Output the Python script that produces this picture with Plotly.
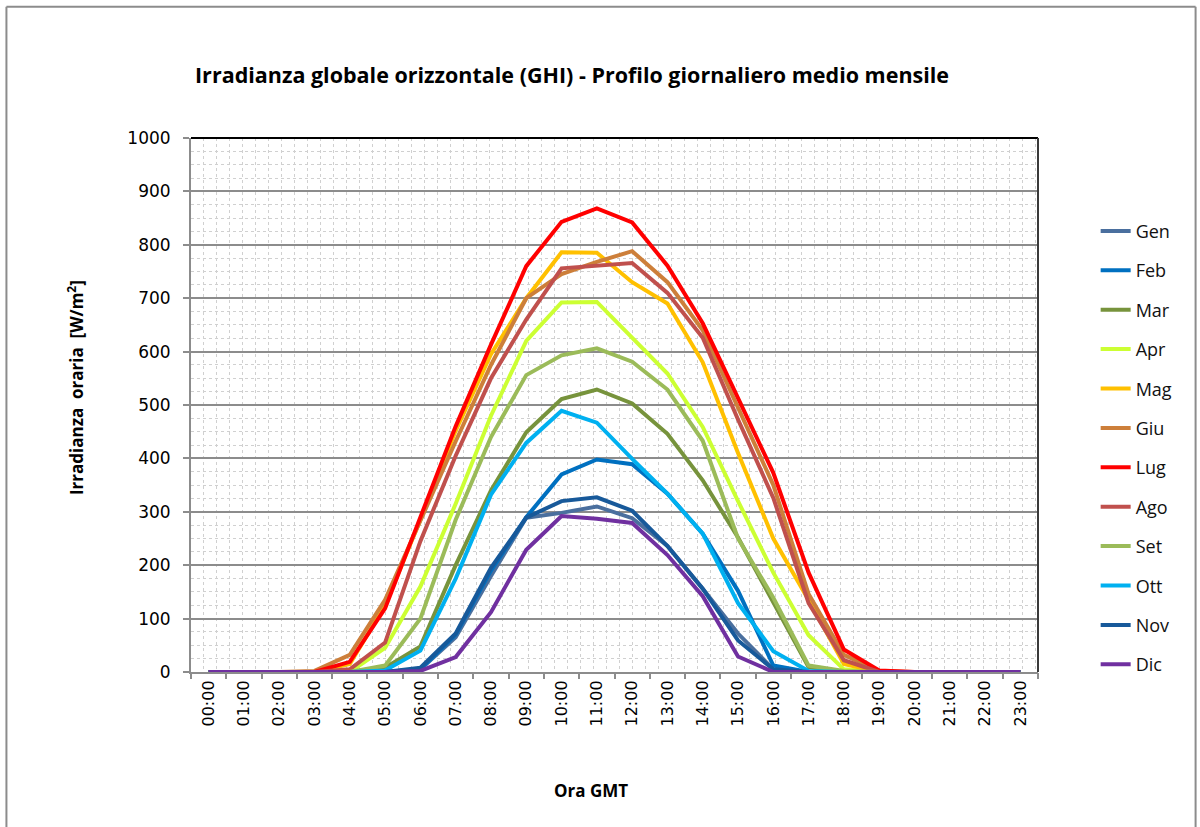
import plotly.graph_objects as go

hours = [f"{h:02d}:00" for h in range(24)]
months = ["Gen", "Feb", "Mar", "Apr", "Mag", "Giu", "Lug", "Ago", "Set", "Ott", "Nov", "Dic"]
colors = ["#4A6F9E", "#0070C0", "#77933C", "#CCFF33", "#FFC000", "#CD7F3A",
          "#FF0000", "#C0504D", "#9BBB59", "#00B0F0", "#17599A", "#7030A0"]

gen = [0, 0, 0, 0, 0, 0, 5, 65, 180, 289, 298, 310, 288, 236, 156, 72, 5, 0, 0, 0, 0, 0, 0, 0]
feb = [0, 0, 0, 0, 0, 0, 5, 70, 190, 290, 370, 398, 389, 334, 259, 152, 12, 0, 0, 0, 0, 0, 0, 0]
mar = [0, 0, 0, 0, 0, 8, 48, 200, 340, 449, 511, 529, 503, 446, 359, 252, 130, 9, 0, 0, 0, 0, 0, 0]
apr = [0, 0, 0, 0, 0, 45, 160, 315, 480, 620, 692, 693, 625, 559, 459, 320, 186, 69, 5, 0, 0, 0, 0, 0]
mag = [0, 0, 0, 0, 15, 125, 285, 452, 595, 700, 786, 785, 730, 690, 580, 410, 250, 135, 15, 0, 0, 0, 0, 0]
giu = [0, 0, 0, 2, 32, 135, 285, 432, 575, 700, 745, 768, 788, 730, 640, 493, 350, 146, 32, 2, 0, 0, 0, 0]
lug = [0, 0, 0, 0, 19, 119, 290, 460, 613, 760, 843, 868, 842, 761, 653, 513, 373, 186, 42, 3, 0, 0, 0, 0]
ago = [0, 0, 0, 0, 5, 55, 245, 405, 550, 660, 756, 761, 766, 710, 626, 473, 326, 129, 22, 0, 0, 0, 0, 0]
set_ = [0, 0, 0, 0, 0, 12, 100, 285, 440, 556, 593, 606, 581, 529, 433, 250, 139, 12, 2, 0, 0, 0, 0, 0]
ott = [0, 0, 0, 0, 0, 3, 40, 175, 332, 429, 489, 467, 399, 334, 259, 129, 39, 2, 0, 0, 0, 0, 0, 0]
nov = [0, 0, 0, 0, 0, 0, 8, 72, 195, 289, 320, 327, 302, 236, 156, 59, 5, 0, 0, 0, 0, 0, 0, 0]
dic = [0, 0, 0, 0, 0, 0, 2, 28, 112, 229, 292, 287, 279, 219, 142, 29, 0, 0, 0, 0, 0, 0, 0, 0]

series = [gen, feb, mar, apr, mag, giu, lug, ago, set_, ott, nov, dic]

y_ticks = list(range(0, 1001, 100))

# plot area geometry (pixels)
W, H = 1200, 827
L, R, T, B = 190.7, 1038.3, 138.3, 672.3
pw, ph = R - L, B - T

def px(x):
    return (x - L) / pw

def py(y):
    return (B - y) / ph

fig = go.Figure()
xi = list(range(24))
for name, col, vals in zip(months, colors, series):
    fig.add_trace(go.Scatter(
        x=xi, y=vals, name=name, mode="lines",
        line=dict(color=col, width=4),
        legendgroup=name,
    ))

# invisible trace on the tick-mark axis
fig.add_trace(go.Scatter(x=[-0.5], y=[0], xaxis="x2", mode="markers",
                         marker=dict(opacity=0), showlegend=False, hoverinfo="skip"))

fig.update_layout(
    width=W, height=H,
    paper_bgcolor="white", plot_bgcolor="white",
    margin=dict(l=L, r=W - R, t=T, b=H - B),
    font=dict(family="DejaVu Sans, sans-serif", color="#000000"),
    showlegend=True,
    legend=dict(
        x=px(1096), y=py(213), xref="paper", yref="paper",
        xanchor="left", yanchor="top",
        font=dict(family="Open Sans, sans-serif", size=18, color="#111111"),
        traceorder="grouped", tracegroupgap=13,
        bgcolor="rgba(0,0,0,0)",
    ),
    xaxis=dict(
        range=[-0.5, 23.5], tickmode="array", tickvals=xi, ticktext=hours,
        tickangle=-90, ticks="", showgrid=False, zeroline=False,
        showline=True, linecolor="#8C8C8C", linewidth=2,
        tickfont=dict(family="DejaVu Sans, sans-serif", size=16, color="#000000"),
        minor=dict(tickmode="linear", tick0=-0.5, dtick=24 / 65.2, showgrid=True,
                   gridcolor="#D0D0D0", griddash="dot", gridwidth=1, ticks=""),
    ),
    xaxis2=dict(
        overlaying="x", anchor="y", side="bottom", range=[-0.5, 23.5],
        tickmode="array", tickvals=[i - 0.5 for i in range(25)],
        ticks="outside", ticklen=6, tickcolor="#8C8C8C", tickwidth=2,
        showticklabels=False, showgrid=False, zeroline=False, showline=False,
    ),
    yaxis=dict(
        range=[0, 1000], tickmode="array", tickvals=y_ticks,
        ticks="outside", ticklen=6, tickcolor="#8C8C8C", tickwidth=2,
        ticklabelstandoff=9,
        showgrid=True, gridcolor="#8C8C8C", gridwidth=1.5, zeroline=False,
        showline=True, linecolor="#8C8C8C", linewidth=2,
        tickfont=dict(family="DejaVu Sans, sans-serif", size=17, color="#000000"),
        minor=dict(tickmode="linear", tick0=0, dtick=25, showgrid=True,
                   gridcolor="#D0D0D0", griddash="dot", gridwidth=1, ticks=""),
    ),
    annotations=[
        dict(text="<b>Irradianza globale orizzontale (GHI) - Profilo giornaliero medio mensile</b>",
             x=px(572), y=py(75), xref="paper", yref="paper", showarrow=False,
             xanchor="center", yanchor="middle",
             font=dict(family="Open Sans, sans-serif", size=21.5, color="#000000")),
        dict(text="<b>Irradianza  oraria  [W/m<sup>2</sup>]</b>",
             x=px(75), y=py(388), xref="paper", yref="paper", showarrow=False,
             textangle=-90, xanchor="center", yanchor="middle",
             font=dict(family="Open Sans, sans-serif", size=17, color="#000000")),
        dict(text="<b>Ora GMT</b>",
             x=px(591), y=py(791), xref="paper", yref="paper", showarrow=False,
             xanchor="center", yanchor="middle",
             font=dict(family="Open Sans, sans-serif", size=17, color="#000000")),
    ],
    shapes=[
        # plot area top and right border
        dict(type="line", xref="x domain", yref="y domain", x0=0, x1=1, y0=1, y1=1,
             line=dict(color="#000000", width=2), layer="above"),
        dict(type="line", xref="x domain", yref="y domain", x0=1, x1=1, y0=0, y1=1,
             line=dict(color="#3A3A3A", width=2), layer="above"),
        # chart area frame
        dict(type="line", xref="paper", yref="paper", x0=px(6), x1=px(6), y0=py(7), y1=py(840),
             line=dict(color="#8C8C8C", width=2)),
        dict(type="line", xref="paper", yref="paper", x0=px(6), x1=px(1196), y0=py(7), y1=py(7),
             line=dict(color="#8C8C8C", width=2)),
        dict(type="line", xref="paper", yref="paper", x0=px(1196), x1=px(1196), y0=py(7), y1=py(840),
             line=dict(color="#8C8C8C", width=2)),
    ],
)

fig.write_html("out.html",
               config={"displayModeBar": False},
               post_script="document.body.style.margin='0px';document.body.style.overflow='hidden';")
